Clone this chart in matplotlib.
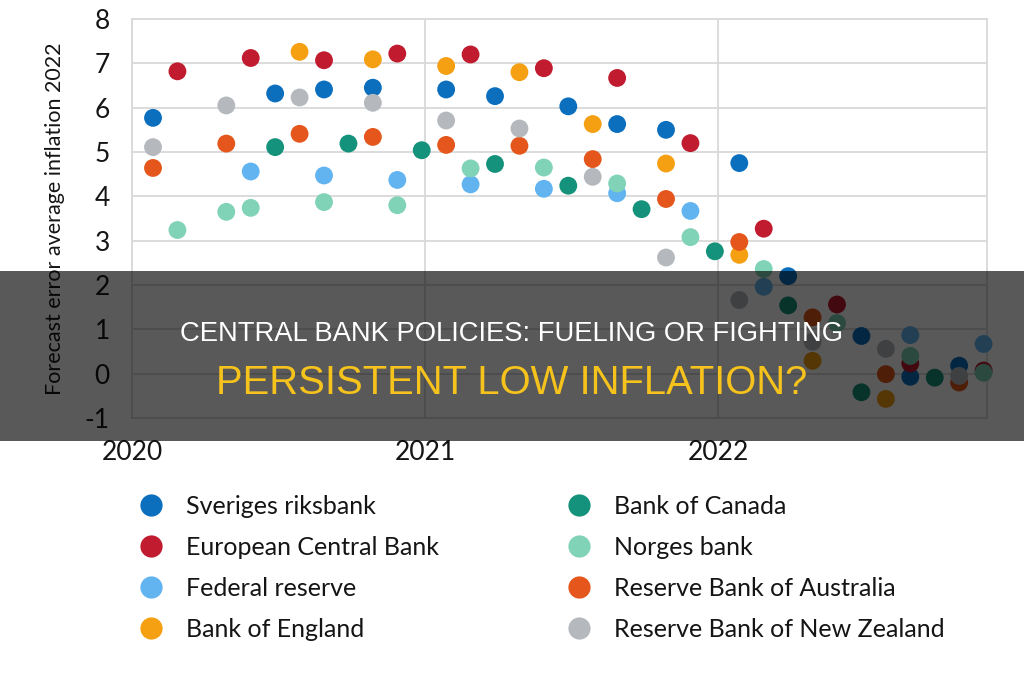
import matplotlib
matplotlib.use("Agg")
import matplotlib.pyplot as plt
from matplotlib.patches import Rectangle
from matplotlib.lines import Line2D

# ---------------- data ----------------
bank_names = ["Sveriges riksbank", "European Central Bank", "Federal reserve", "Bank of England",
              "Bank of Canada", "Norges bank", "Reserve Bank of Australia", "Reserve Bank of New Zealand"]
bank_colors = ["#0B6FBE", "#C01B2E", "#62B4F0", "#F59F12",
               "#14927B", "#80D3B6", "#E4561B", "#B5B9BE"]

# x = month index counted from January 2020 (1 = first forecast round)
sveriges_m = [1, 6, 8, 10, 13, 15, 18, 20, 22, 25, 27, 30, 32, 34]
sveriges_v = [5.77, 6.32, 6.41, 6.45, 6.41, 6.26, 6.03, 5.63, 5.50, 4.75, 2.20, 0.85, -0.07, 0.18]

ecb_m = [2, 5, 8, 11, 14, 17, 20, 23, 26, 29, 32, 35]
ecb_v = [6.82, 7.12, 7.07, 7.22, 7.20, 6.89, 6.67, 5.20, 3.27, 1.56, 0.23, 0.07]

fed_m = [5, 8, 11, 14, 17, 20, 23, 26, 32, 35]
fed_v = [4.56, 4.47, 4.37, 4.27, 4.17, 4.07, 3.67, 1.96, 0.87, 0.67]

boe_m = [7, 10, 13, 16, 19, 22, 25, 28, 31]
boe_v = [7.26, 7.09, 6.94, 6.80, 5.63, 4.74, 2.68, 0.29, -0.57]

canada_m = [6, 9, 12, 15, 18, 21, 24, 27, 30, 33]
canada_v = [5.11, 5.19, 5.04, 4.73, 4.24, 3.71, 2.76, 1.54, -0.42, -0.09]

norges_m = [2, 4, 5, 8, 11, 14, 17, 20, 23, 26, 29, 32, 35]
norges_v = [3.24, 3.65, 3.74, 3.87, 3.80, 4.63, 4.65, 4.29, 3.08, 2.36, 1.14, 0.40, 0.02]

rba_m = [1, 4, 7, 10, 13, 16, 19, 22, 25, 28, 31, 34]
rba_v = [4.64, 5.19, 5.41, 5.34, 5.16, 5.14, 4.84, 3.94, 2.97, 1.27, -0.01, -0.20]

rbnz_m = [1, 4, 7, 10, 13, 16, 19, 22, 25, 28, 31, 34]
rbnz_v = [5.11, 6.05, 6.23, 6.11, 5.71, 5.53, 4.44, 2.62, 1.66, 0.72, 0.56, -0.05]

year_labels = ["2020", "2021", "2022"]
y_ticks = [-1, 0, 1, 2, 3, 4, 5, 6, 7, 8]
y_label = "Forecast error average inflation 2022"
title_line1 = "CENTRAL BANK POLICIES: FUELING OR FIGHTING"
title_line2 = "PERSISTENT LOW INFLATION?"

series = [(sveriges_m, sveriges_v), (ecb_m, ecb_v), (fed_m, fed_v), (boe_m, boe_v),
          (canada_m, canada_v), (norges_m, norges_v), (rba_m, rba_v), (rbnz_m, rbnz_v)]

# ---------------- figure ----------------
plt.rcParams['font.family'] = ['Lato', 'DejaVu Sans']
fig = plt.figure(figsize=(10.24, 6.8), dpi=100)
fig.patch.set_facecolor("white")

W, H = 1024, 680
ax = fig.add_axes([132 / W, 1 - 418 / H, (987 - 132) / W, (418 - 19) / H])

x0 = 0.14  # axis start (Jan 2020) in month units
for (m, v), c in zip(series, bank_colors):
    ax.scatter(m, v, s=165, color=c, edgecolors="none", zorder=3, clip_on=False)

ax.set_xlim(x0, x0 + 35)
ax.set_ylim(-1, 8)
ax.set_yticks(y_ticks)
ax.set_yticklabels([str(t) for t in y_ticks])
ax.set_xticks([x0 + 12 * i for i in range(len(year_labels))])
ax.set_xticklabels(year_labels)
ax.tick_params(axis="both", length=0, labelsize=19, colors="#151515")
ax.tick_params(axis="y", pad=16)
ax.tick_params(axis="x", pad=16)
ax.grid(True, color="#d9d9d9", linewidth=1.3, zorder=0)
ax.set_axisbelow(True)
for sp in ax.spines.values():
    sp.set_color("#d9d9d9")
    sp.set_linewidth(1.3)
ax.set_ylabel(y_label, fontsize=15.5, color="#151515")
ax.yaxis.set_label_coords(-0.078, 0.5)

# ---------------- legend (two columns) ----------------
handles = [Line2D([], [], marker="o", linestyle="none", markersize=16,
                  markerfacecolor=c, markeredgecolor="none") for c in bank_colors]
leg_kw = dict(frameon=False, fontsize=18, handlelength=0.92, handletextpad=0.95,
              labelspacing=0.72, borderpad=0, borderaxespad=0, loc="center left")
leg1 = fig.legend(handles[:4], bank_names[:4], bbox_to_anchor=(139 / W, 1 - 568 / H), **leg_kw)
leg2 = fig.legend(handles[4:], bank_names[4:], bbox_to_anchor=(567 / W, 1 - 568 / H), **leg_kw)
for lg in (leg1, leg2):
    for t in lg.get_texts():
        t.set_color("#151515")

# ---------------- banner overlay ----------------
banner = Rectangle((0, 1 - 441 / H), 1, (441 - 271) / H, transform=fig.transFigure,
                   facecolor="black", alpha=0.65, edgecolor="none", zorder=10)
fig.add_artist(banner)
fig.text(0.5, 1 - 334 / H, title_line1, ha="center", va="center", color="white",
         fontsize=19.7, family=["Liberation Sans", "DejaVu Sans"], zorder=11)
fig.text(0.5, 1 - 383 / H, title_line2, ha="center", va="center", color="#F6C21C",
         fontsize=28.8, family=["Liberation Sans", "DejaVu Sans"], zorder=11)

fig.savefig("out.png", dpi=100, facecolor="white")
